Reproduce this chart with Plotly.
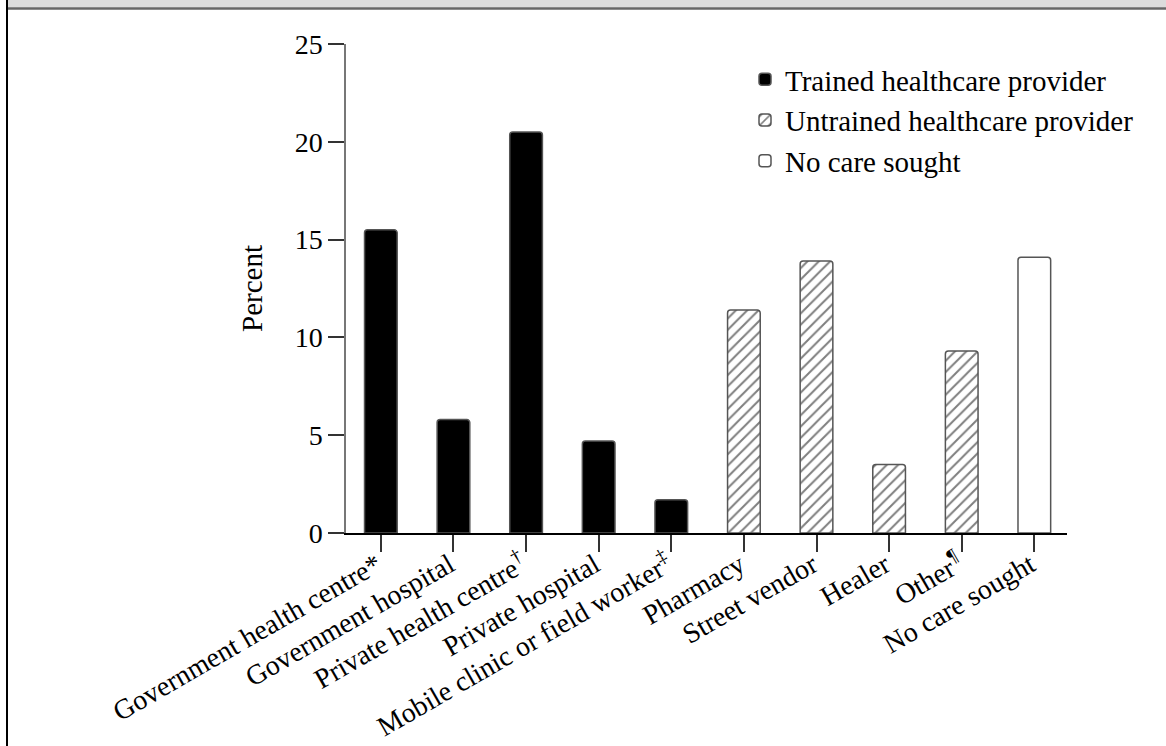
import plotly.graph_objects as go

categories = [
    "Government health centre*",
    "Government hospital",
    "Private health centre<sup>†</sup>",
    "Private hospital",
    "Mobile clinic or field worker<sup>‡</sup>",
    "Pharmacy",
    "Street vendor",
    "Healer",
    "Other<sup>¶</sup>",
    "No care sought",
]
trained_cats = categories[0:5]
trained_vals = [15.5, 5.8, 20.5, 4.7, 1.7]
untrained_cats = categories[5:9]
untrained_vals = [11.4, 13.9, 3.5, 9.3]
nocare_cats = categories[9:10]
nocare_vals = [14.1]
y_ticks = [0, 5, 10, 15, 20, 25]

FONT = "Liberation Serif"
FS = 29
OUTLINE = "#555555"
BW = 0.45

fig = go.Figure()
fig.add_trace(go.Bar(
    x=trained_cats, y=trained_vals, name="Trained healthcare provider",
    width=BW,
    marker=dict(color="black", line=dict(color=OUTLINE, width=1.5), cornerradius=3),
))
fig.add_trace(go.Bar(
    x=untrained_cats, y=untrained_vals, name="Untrained healthcare provider",
    width=BW,
    marker=dict(color="white", line=dict(color=OUTLINE, width=1.5), cornerradius=3,
                pattern=dict(shape="/", fgcolor="black", bgcolor="white", size=8, solidity=0.25)),
))
fig.add_trace(go.Bar(
    x=nocare_cats, y=nocare_vals, name="No care sought",
    width=BW,
    marker=dict(color="white", line=dict(color=OUTLINE, width=1.5), cornerradius=3),
))

W, H = 1166, 746
L, T = 346, 44
R, B = W - 1067, H - 533
pw, ph = W - L - R, H - T - B

def px_x(x):
    return (x - L) / pw

def px_y(y):
    return (H - B - y) / ph

fig.update_layout(
    width=W, height=H,
    margin=dict(l=L, r=R, t=T, b=B, autoexpand=False),
    paper_bgcolor="white", plot_bgcolor="white",
    barmode="overlay",
    font=dict(family=FONT, size=FS, color="black"),
    showlegend=True,
    legend=dict(
        x=px_x(745), y=px_y(54), xanchor="left", yanchor="top",
        font=dict(family=FONT, size=FS), bgcolor="rgba(0,0,0,0)",
        tracegroupgap=0, itemwidth=30,
    ),
    xaxis=dict(
        type="category", categoryorder="array", categoryarray=categories,
        range=[-0.48, 9.45],
        showline=True, linecolor="black", linewidth=1.5,
        ticks="outside", ticklen=17, tickcolor="#333333", tickwidth=1.5,
        tickangle=-30, tickfont=dict(family=FONT, size=28),
        ticklabelstandoff=-14, ticklabelshift=-4,
        showgrid=False, zeroline=False,
    ),
    yaxis=dict(
        range=[0, 25], tickvals=y_ticks,
        showline=True, linecolor="#777777", linewidth=1.5,
        ticks="outside", ticklen=16, tickcolor="#333333", tickwidth=1.5,
        tickfont=dict(family=FONT, size=28),
        showgrid=False, zeroline=False,
        title=dict(text="Percent", font=dict(family=FONT, size=FS), standoff=24),
    ),
    shapes=[
        dict(type="rect", xref="paper", yref="paper",
             x0=px_x(8), x1=px_x(W + 5), y0=px_y(7.5), y1=px_y(-5),
             fillcolor="#dcdcdc", line=dict(width=0), layer="above"),
        dict(type="line", xref="paper", yref="paper",
             x0=px_x(8), x1=px_x(W + 5), y0=px_y(8.5), y1=px_y(8.5),
             line=dict(color="#666666", width=2.5)),
        dict(type="line", xref="paper", yref="paper",
             x0=px_x(7), x1=px_x(7), y0=px_y(-5), y1=px_y(H + 5),
             line=dict(color="black", width=2)),
    ],
)

fig.write_html("out.html", config={"displayModeBar": False},
               post_script="document.body.style.margin='0';")
